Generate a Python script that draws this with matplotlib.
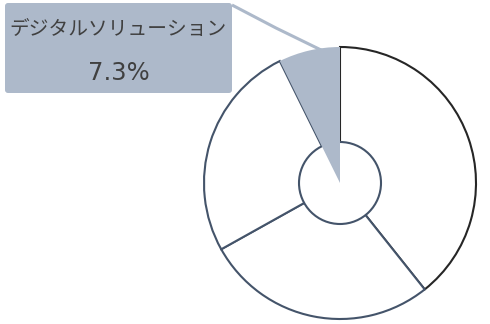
import matplotlib
matplotlib.use("Agg")
import matplotlib.pyplot as plt
from matplotlib.patches import Circle, FancyBboxPatch
import numpy as np

plt.rcParams['font.family'] = ['Noto Sans CJK JP', 'DejaVu Sans']

# データ (時計回り、12時の位置から)
labels = ['', '', '', 'デジタルソリューション']
shares = [39.3, 27.6, 25.8, 7.3]
fills = ['white', 'white', 'white', '#adb9ca']
edges = ['#262626', '#44546a', '#44546a', 'none']
highlight = 3

W, H = 490, 324
fig = plt.figure(figsize=(W / 100, H / 100), dpi=100)
ax = fig.add_axes([0, 0, 1, 1])

cx, cy, r_out, r_in = 340, H - 183, 136, 41

wedges, _ = ax.pie(shares, radius=r_out, center=(cx, cy), startangle=90,
                   counterclock=False, colors=fills,
                   wedgeprops=dict(linewidth=1.5))
for i, w in enumerate(wedges):
    w.set_edgecolor(edges[i])
    w.set_zorder(2 + i * 0.1)
wedges[highlight].set_zorder(5)
wedges[highlight].set_linewidth(0)

# 中央の円
ax.add_patch(Circle((cx, cy), r_in, facecolor='white', edgecolor='#44546a',
                    linewidth=1.5, zorder=3))

# ラベルボックス
bx0, by0, bx1, by1 = 5, H - 93, 232, H - 3
ax.add_patch(FancyBboxPatch((bx0, by0), bx1 - bx0, by1 - by0,
                            boxstyle='round,pad=0,rounding_size=3',
                            facecolor='#adb9ca', edgecolor='none', zorder=4))
ax.text((bx0 + bx1) / 2 - 1, H - 29, labels[highlight], ha='center',
        va='center', fontsize=14.2, color='#404040', zorder=6)
ax.text((bx0 + bx1) / 2, H - 73, f'{shares[highlight]}%', ha='center',
        va='center', fontsize=17.5, color='#404040', family='DejaVu Sans',
        zorder=6)

# 引き出し線
w = wedges[highlight]
ang = np.deg2rad(w.theta1 + 0.3 * (w.theta2 - w.theta1))
ex, ey = cx + (r_out - 2) * np.cos(ang), cy + (r_out - 2) * np.sin(ang)
ax.plot([bx1, 276, ex], [by1 - 2, H - 28, ey], color='#adb9ca',
        linewidth=2.2, solid_capstyle='butt', zorder=4)

ax.set_xlim(0, W)
ax.set_ylim(0, H)
ax.set_aspect('auto')
ax.set_axis_off()

fig.savefig('out.png', dpi=100)
